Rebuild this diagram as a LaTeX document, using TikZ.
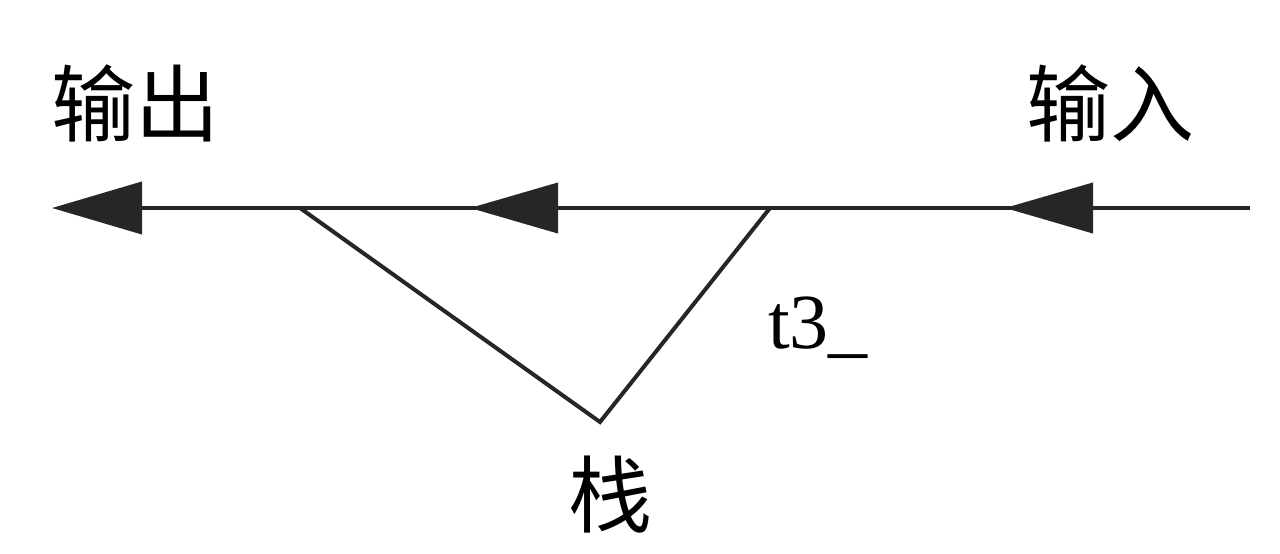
\documentclass[tikz,border=0pt]{standalone}
\usepackage{fontspec}
\setmainfont{Liberation Serif}
\newfontfamily\cjk{Noto Sans CJK SC}
\usetikzlibrary{arrows.meta,decorations.markings}
\begin{document}
\begin{tikzpicture}[x=1pt,y=-1pt,
  flow/.style={line width=4pt,draw=black!85},
  lab/.style={inner sep=0pt,font=\fontsize{84}{86}\selectfont\cjk},
  latlab/.style={inner sep=0pt,font=\fontsize{78}{80}\selectfont}]
\useasboundingbox (0,0) rectangle (1280,554);
\coordinate (in) at (1250,208);
\coordinate (out) at (52,208);
\coordinate (A) at (300,208);
\coordinate (B) at (770,208);
\coordinate (C) at (600,422);
\draw[flow,-{Triangle[length=90pt,width=52pt]},
  postaction={decorate,decoration={markings,
    mark=at position 245pt with {\arrow[black!85]{Triangle[length=88pt,width=50pt]}},
    mark=at position 780pt with {\arrow[black!85]{Triangle[length=88pt,width=50pt]}}}}]
  (in) -- (out);
\draw[flow,line join=miter] (A) -- (C) -- (B);
\node[lab] (outlab) at (135,103) {输出};
\node[lab] (inlab) at (1110,103) {输入};
\node[lab] (stack) at (610,495) {栈};
\node[latlab,anchor=west] (t3) at (768,328) {t3\_};
\end{tikzpicture}
\end{document}
